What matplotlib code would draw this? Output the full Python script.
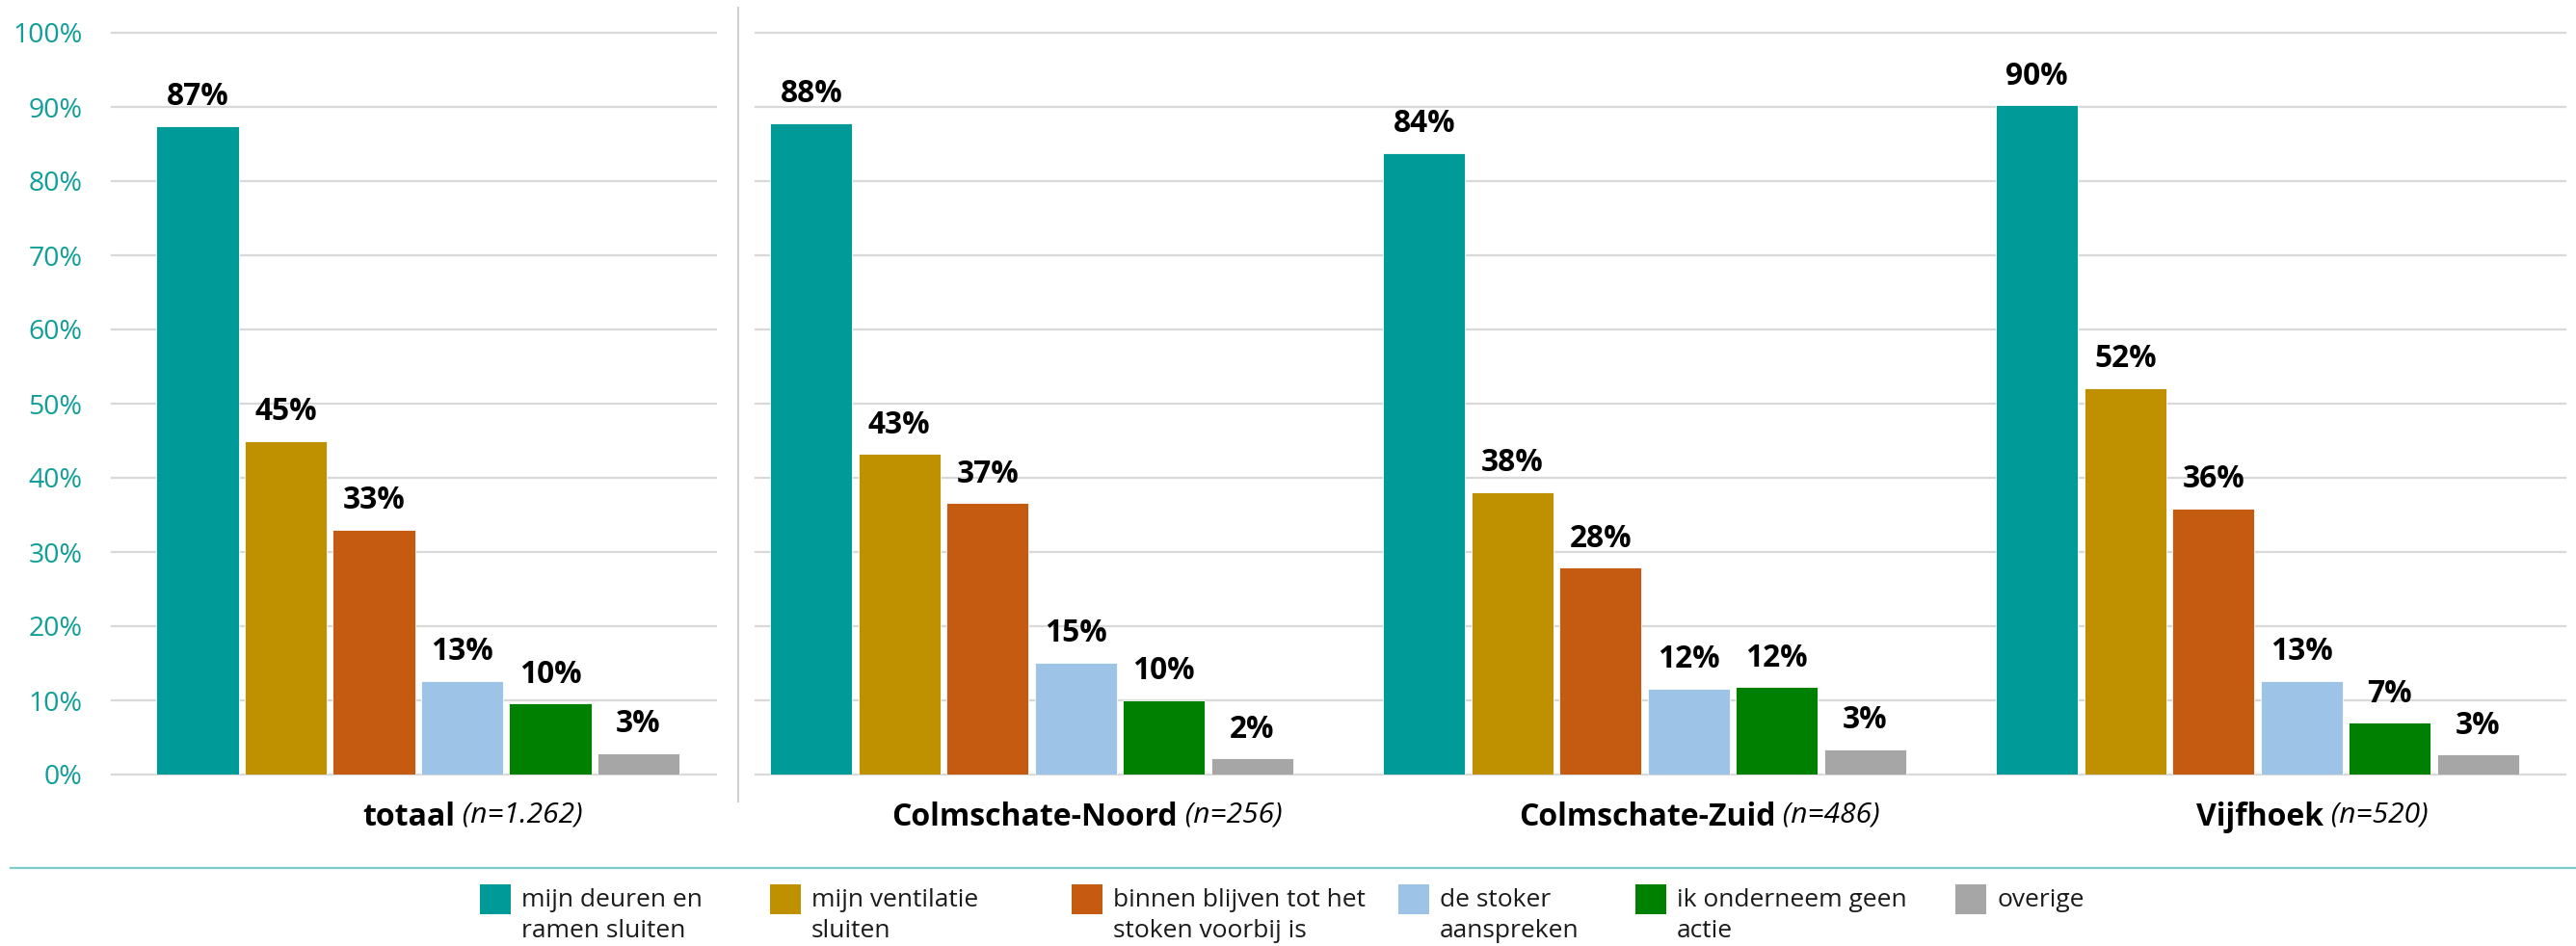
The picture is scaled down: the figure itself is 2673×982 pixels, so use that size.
import matplotlib
matplotlib.use("Agg")
import matplotlib.pyplot as plt
from matplotlib.patches import Rectangle
from matplotlib.lines import Line2D

# ---------------- data ----------------
groups = ["totaal", "Colmschate-Noord", "Colmschate-Zuid", "Vijfhoek"]
group_n = ["(n=1.262)", "(n=256)", "(n=486)", "(n=520)"]
series_names = [
    "mijn deuren en\nramen sluiten",
    "mijn ventilatie\nsluiten",
    "binnen blijven tot het\nstoken voorbij is",
    "de stoker\naanspreken",
    "ik onderneem geen\nactie",
    "overige",
]
deuren_ramen = [87.4, 87.8, 83.8, 90.2]
ventilatie = [45.0, 43.2, 38.1, 52.1]
binnen_blijven = [33.0, 36.6, 27.9, 35.9]
stoker_aanspreken = [12.6, 15.1, 11.6, 12.6]
geen_actie = [9.6, 10.0, 11.8, 7.0]
overige = [2.9, 2.2, 3.4, 2.7]
series_values = [deuren_ramen, ventilatie, binnen_blijven, stoker_aanspreken, geen_actie, overige]
yticks = [0, 10, 20, 30, 40, 50, 60, 70, 80, 90, 100]
ytick_labels = [f"{t}%" for t in yticks]

colors = ["#009B98", "#BF9000", "#C55A11", "#9DC3E6", "#008000", "#A6A6A6"]
teal_txt = "#109E99"
grid_c = "#D9D9D9"

plt.rcParams["font.family"] = ["Open Sans", "DejaVu Sans"]

W, H = 2673, 982
fig = plt.figure(figsize=(W / 100, H / 100), dpi=100)


def fx(px):
    return px / W


def fy(py_top):
    return (H - py_top) / H


y0_px, y100_px = 804, 34
ax_bottom = fy(y0_px)
ax_h = (y0_px - y100_px) / H
axL = fig.add_axes([fx(116), ax_bottom, fx(743 - 116), ax_h])
axR = fig.add_axes([fx(784), ax_bottom, fx(2662 - 784), ax_h])

unit = 636.0
bar_pitch = 91.5 / unit
bar_w = 85.3 / unit

axL.set_xlim(-0.4997, -0.4997 + (743 - 116) / unit)
axR.set_xlim(0.5495, 0.5495 + (2662 - 784) / unit)

for ax in (axL, axR):
    ax.set_ylim(0, 100)
    for s in ax.spines.values():
        s.set_visible(False)
    ax.set_xticks([])
    for t in yticks:
        ax.axhline(t, color=grid_c, lw=1.6, zorder=0, clip_on=False)

axL.set_yticks(yticks)
axL.set_yticklabels(ytick_labels)
axL.tick_params(axis="y", length=0, pad=22, labelsize=20.5, labelcolor=teal_txt)
axR.set_yticks([])

for gi, g in enumerate(groups):
    ax = axL if gi == 0 else axR
    for si, vals in enumerate(series_values):
        x = gi + (si - 2.5) * bar_pitch
        v = vals[gi]
        ax.bar(x, v, width=bar_w, color=colors[si], zorder=2,
               edgecolor="white", linewidth=0.6)
        ax.annotate(f"{v:.0f}%", (x, v), xytext=(0, 15.5), textcoords="offset points",
                    ha="center", va="baseline", fontsize=22.8, fontweight="bold",
                    color="black", zorder=3)

# separator
fig.add_artist(Line2D([fx(766), fx(766)], [fy(8), fy(832)], color="#D0D0D0", lw=1.5))
# teal divider line
fig.add_artist(Line2D([fx(11), fx(2673)], [fy(900.5), fy(900.5)], color="#7CCDCA", lw=1.6))

# group labels
fig.canvas.draw()
renderer = fig.canvas.get_renderer()
for gi, g in enumerate(groups):
    ax = axL if gi == 0 else axR
    cx = ax.transData.transform((gi, 0))[0] + 57
    tb = fig.text(0, fy(857), g, fontsize=23, fontweight="bold", ha="left", va="baseline")
    ti = fig.text(0, fy(853), " " + group_n[gi], fontsize=21.5, fontstyle="italic",
                  ha="left", va="baseline")
    wb = tb.get_window_extent(renderer).width
    wi = ti.get_window_extent(renderer).width
    start = cx - (wb + wi) / 2
    tb.set_x(fx(start))
    ti.set_x(fx(start + wb))

# legend
box_lefts = [498, 799, 1112, 1451, 1697, 2029]
for i, name in enumerate(series_names):
    bl = box_lefts[i]
    fig.add_artist(Rectangle((fx(bl), fy(949)), fx(32), 31 / H, transform=fig.transFigure,
                             facecolor=colors[i], edgecolor="none"))
    fig.text(fx(bl + 43), fy(922), name, fontsize=19, color="#1A1A1A",
             ha="left", va="top", linespacing=1.36)

fig.savefig("out.png", dpi=100)
